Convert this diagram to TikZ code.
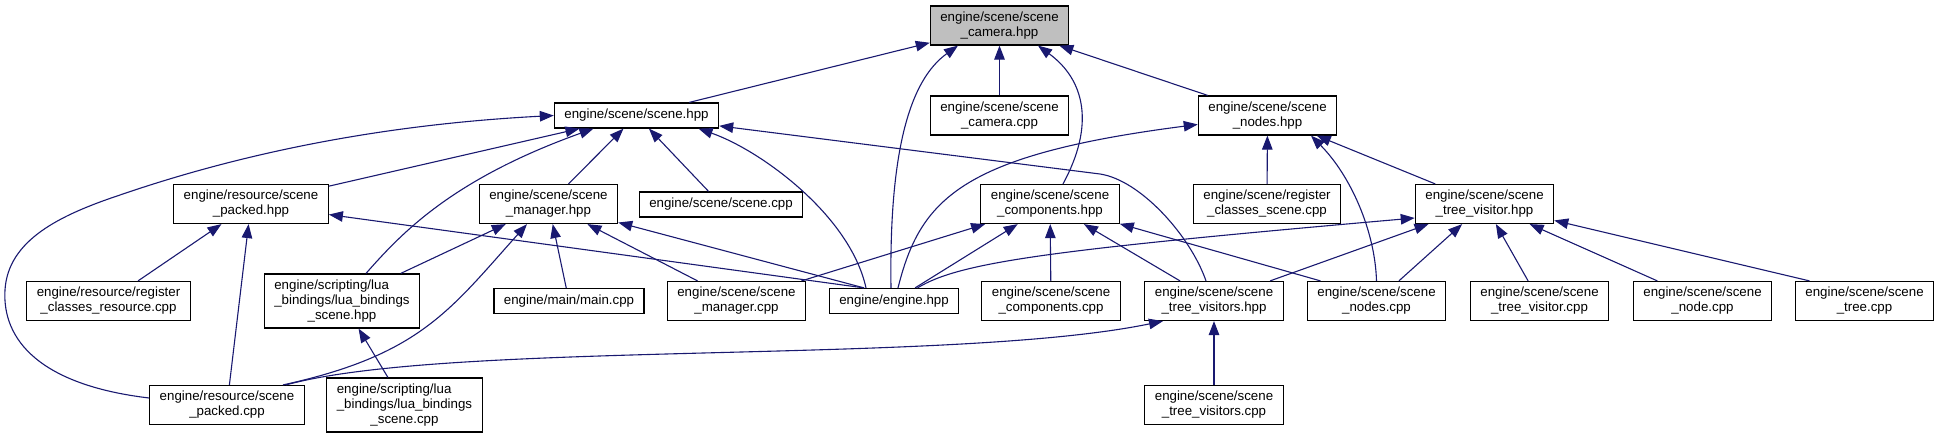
\documentclass[tikz,border=0pt]{standalone}
\usepackage{fontspec}
\setmainfont{Liberation Sans}
\usetikzlibrary{arrows.meta}
\definecolor{edgeblue}{HTML}{191970}
\definecolor{selfgray}{HTML}{BFBFBF}

\begin{document}
\begin{tikzpicture}[x=1pt, y=-1pt,
    file/.style={draw, line width=1.2pt, fill=white, align=center, inner xsep=10pt, inner ysep=0pt, font=\fontsize{13.3}{15}\selectfont},
    one/.style={file, minimum height=25pt},
    two/.style={file, minimum height=39pt},
    three/.style={file, minimum height=54pt},
    self/.style={two, fill=selfgray},
    incl/.style={-{Triangle[length=14pt,width=10.5pt]}, color=edgeblue, line width=1.1pt}
]
    \useasboundingbox (0,0) rectangle (1939,439);

    \node[self] (camhpp) at (999.5,25.5) {engine/scene/scene\\\_camera.hpp};

    \node[one] (scenehpp) at (636.5,115.5) {engine/scene/scene.hpp};
    \node[two] (camcpp) at (999.5,115.5) {engine/scene/scene\\\_camera.cpp};
    \node[two] (nodeshpp) at (1267.5,115.5) {engine/scene/scene\\\_nodes.hpp};

    \node[two] (packedhpp) at (251,204) {engine/resource/scene\\\_packed.hpp};
    \node[two] (managerhpp) at (548.5,204) {engine/scene/scene\\\_manager.hpp};
    \node[one] (scenecpp) at (721,204.5) {engine/scene/scene.cpp};
    \node[two] (comphpp) at (1050,204) {engine/scene/scene\\\_components.hpp};
    \node[two] (regscene) at (1267,204) {engine/scene/register\\\_classes\_scene.cpp};
    \node[two] (visitorhpp) at (1484.5,204) {engine/scene/scene\\\_tree\_visitor.hpp};

    \node[two] (regres) at (108.5,301) {engine/resource/register\\\_classes\_resource.cpp};
    \node[three] (luahpp) at (342,301) {\rlap{engine/scripting/lua}\phantom{\_bindings/lua\_bindings}\\\_bindings/lua\_bindings\\\_scene.hpp};
    \node[one] (maincpp) at (569,301) {engine/main/main.cpp};
    \node[two] (managercpp) at (736.5,301) {engine/scene/scene\\\_manager.cpp};
    \node[one] (enginehpp) at (894,301) {engine/engine.hpp};
    \node[two] (compcpp) at (1051,301) {engine/scene/scene\\\_components.cpp};
    \node[two] (visitorshpp) at (1214,301) {engine/scene/scene\\\_tree\_visitors.hpp};
    \node[two] (nodescpp) at (1376.5,301) {engine/scene/scene\\\_nodes.cpp};
    \node[two] (visitorcpp) at (1539.5,301) {engine/scene/scene\\\_tree\_visitor.cpp};
    \node[two] (nodecpp) at (1702.5,301) {engine/scene/scene\\\_node.cpp};
    \node[two] (treecpp) at (1864.5,301) {engine/scene/scene\\\_tree.cpp};

    \node[two] (packedcpp) at (227,405) {engine/resource/scene\\\_packed.cpp};
    \node[three] (luacpp) at (404.5,405) {\rlap{engine/scripting/lua}\phantom{\_bindings/lua\_bindings}\\\_bindings/lua\_bindings\\\_scene.cpp};
    \node[two] (visitorscpp) at (1214,405) {engine/scene/scene\\\_tree\_visitors.cpp};

    % scene_camera.hpp
    \draw[incl] (scenehpp) -- (camhpp);
    \draw[incl] (camcpp) -- (camhpp);
    \draw[incl] (nodeshpp) -- (camhpp);
    \draw[incl] ([xshift=-3pt]enginehpp.north) .. controls (889,150) and (910,80) .. ([xshift=-41.5pt]camhpp.south);
    \draw[incl] ([xshift=13pt]comphpp.north) .. controls (1095,125) and (1085,80) .. ([xshift=38.5pt]camhpp.south);

    % scene.hpp
    \draw[incl] (packedhpp) -- (scenehpp);
    \draw[incl] (managerhpp) -- (scenehpp);
    \draw[incl] (scenecpp) -- (scenehpp);
    \draw[incl] ([xshift=24pt]luahpp.north) .. controls (400,235) and (450,180) .. ([xshift=-43pt]scenehpp.south);
    \draw[incl] ([xshift=-28pt]enginehpp.north) .. controls (850,215) and (760,150) .. ([xshift=62pt]scenehpp.south);
    \draw[incl] ([xshift=-8pt]visitorshpp.north) .. controls (1190,235) and (1140,180) .. (1100,174) -- (scenehpp);
    \draw[incl] ([yshift=7pt]packedcpp.west) .. controls (40,385) and (2,340) .. (5,290)
        .. controls (8,240) and (60,215) .. (120,195) .. controls (280,140) and (430,122) .. (scenehpp.west);

    % scene_nodes.hpp
    \draw[incl] ([xshift=4pt]enginehpp.north) .. controls (920,200) and (960,155) .. (nodeshpp);
    \draw[incl] (regscene) -- (nodeshpp);
    \draw[incl] (nodescpp.north) .. controls (1375,230) and (1350,175) .. ([xshift=43.5pt]nodeshpp.south);
    \draw[incl] (visitorhpp) -- (nodeshpp);

    % scene_packed.hpp
    \draw[incl] (regres) -- (packedhpp);
    \draw[incl] (packedcpp) -- (packedhpp);
    \draw[incl] ([xshift=-30pt]enginehpp.north) -- (packedhpp);

    % scene_manager.hpp
    \draw[incl] (luahpp) -- (managerhpp);
    \draw[incl] ([xshift=56pt]packedcpp.north) .. controls (420,355) and (450,310) .. ([xshift=-21.5pt]managerhpp.south);
    \draw[incl] (maincpp) -- (managerhpp);
    \draw[incl] (managercpp) -- (managerhpp);
    \draw[incl] ([xshift=-30pt]enginehpp.north) -- (managerhpp);

    % scene_components.hpp
    \draw[incl] (managercpp) -- (comphpp);
    \draw[incl] (enginehpp) -- (comphpp);
    \draw[incl] (compcpp) -- (comphpp);
    \draw[incl] (visitorshpp) -- (comphpp);
    \draw[incl] ([xshift=-56pt]nodescpp.north) -- (comphpp);

    % scene_tree_visitor.hpp
    \draw[incl] ([xshift=23.5pt]enginehpp.north) .. controls (960,262) and (1050,250) .. ([yshift=-14pt]visitorhpp.west);
    \draw[incl] (visitorshpp) -- (visitorhpp);
    \draw[incl] (nodescpp) -- (visitorhpp);
    \draw[incl] (visitorcpp) -- (visitorhpp);
    \draw[incl] (nodecpp) -- (visitorhpp);
    \draw[incl] ([xshift=-55pt]treecpp.north) -- (visitorhpp);

    % the rest
    \draw[incl] (luacpp) -- (luahpp);
    \draw[incl] ([xshift=59pt]packedcpp.north) .. controls (450,340) and (950,365) .. ([xshift=-51pt]visitorshpp.south);
    \draw[incl] (visitorscpp) -- (visitorshpp);
\end{tikzpicture}
\end{document}
